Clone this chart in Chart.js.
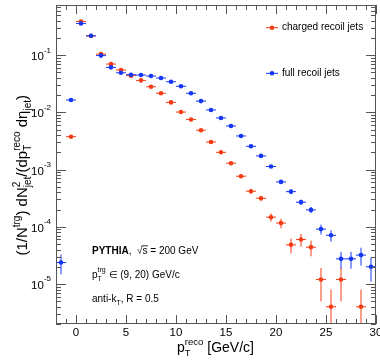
<!DOCTYPE html>
<html><head><meta charset="utf-8">
<script src="https://cdn.jsdelivr.net/npm/chart.js@4"></script>
<style>html,body{margin:0;padding:0;background:#fff}#wrap{width:380px;height:360px}</style>
</head><body><div id="wrap"><canvas id="c" width="380" height="360"></canvas></div>
<script>
// ---- data ----
const chargedX = [-0.5,0.5,1.5,2.5,3.5,4.5,5.5,6.5,7.5,8.5,9.5,10.5,11.5,12.5,13.5,14.5,15.5,16.5,17.5,18.5,19.5,20.5,21.5,22.5,23.5,24.5,25.5,26.5,28.5];
const chargedY = [0.00375,0.387,0.216,0.104,0.0697,0.0547,0.0436,0.0361,0.028,0.0215,0.0149,0.0101,0.0075,0.00486,0.00303,0.0020,0.00129,0.000764,0.000418,0.000315,0.000147,0.000116,4.83e-5,5.98e-5,4.4e-5,1.2e-5,4.0e-6,1.2e-5,4.0e-6];
const chargedErr = [1.2e-4,1.2e-3,9e-4,6.4e-4,5.3e-4,4.7e-4,4.2e-4,3.8e-4,3.3e-4,2.9e-4,2.4e-4,2.0e-4,1.7e-4,1.4e-4,1.1e-4,9e-5,7.2e-5,5.5e-5,4.1e-5,3.5e-5,2.4e-5,2.2e-5,1.4e-5,1.5e-5,1.35e-5,7e-6,4e-6,7e-6,4e-6];
const fullX = [-1.5,-0.5,0.5,1.5,2.5,3.5,4.5,5.5,6.5,7.5,8.5,9.5,10.5,11.5,12.5,13.5,14.5,15.5,16.5,17.5,18.5,19.5,20.5,21.5,22.5,23.5,24.5,25.5,26.5,27.5,28.5,29.5];
const fullY = [2.37e-5,0.0164,0.357,0.217,0.098,0.061,0.049,0.0454,0.0448,0.043,0.0397,0.0342,0.0285,0.0215,0.0157,0.011,0.00796,0.00577,0.00386,0.00255,0.00173,0.00113,0.000608,0.000411,0.000269,0.000197,9.1e-5,7.1e-5,2.75e-5,2.75e-5,3.2e-5,2.0e-5];
const fullErr = [9e-6,2.2e-4,1.0e-3,8e-4,5.4e-4,4.3e-4,3.8e-4,3.7e-4,3.7e-4,3.6e-4,3.5e-4,3.2e-4,2.9e-4,2.5e-4,2.2e-4,1.8e-4,1.5e-4,1.3e-4,1.1e-4,8.7e-5,7.2e-5,5.8e-5,4.3e-5,3.5e-5,2.8e-5,2.4e-5,1.8e-5,1.6e-5,9e-6,9e-6,1.1e-5,9e-6];
const binHalfWidth = 0.5;
const xTickValues = [0,5,10,15,20,25,30];
const xTickLabels = ['0','5','10','15','20','25','30'];
const yTickExponents = [-1,-2,-3,-4,-5];
const seriesLabels = ['charged recoil jets','full recoil jets'];

const FAM = '"Liberation Sans", Arial, Helvetica, sans-serif';
const RED = 'rgb(245,60,20)';
const BLUE = 'rgb(20,55,245)';

function setFont(ctx, p){ ctx.font = (p.bold?'bold ':'') + p.size + 'px ' + FAM; }
function drawRich(ctx, x, y, parts, measureOnly){
  let cx = x, lastStart = x, lastW = 0;
  for (const p of parts){
    setFont(ctx, p);
    const pw = ctx.measureText(p.t).width;
    if (p.stack){
      if(!measureOnly) ctx.fillText(p.t, lastStart, y + (p.dy||0));
      const end = lastStart + Math.max(lastW, pw);
      cx = end; lastW = Math.max(lastW, pw);
    } else {
      if(!measureOnly) ctx.fillText(p.t, cx, y + (p.dy||0));
      lastStart = cx; lastW = pw; cx += pw;
    }
  }
  return cx - x;
}

const errorBars = {
  id: 'errorBars',
  beforeDatasetsDraw(chart){
    const {ctx, chartArea: a, scales: {x, y}} = chart;
    ctx.save();
    ctx.beginPath(); ctx.rect(a.left, a.top, a.right - a.left, a.bottom - a.top); ctx.clip();
    ctx.lineWidth = 1;
    const sets = [[chargedX, chargedY, chargedErr, RED], [fullX, fullY, fullErr, BLUE]];
    for (const [xs, ys, es, col] of sets){
      ctx.strokeStyle = col;
      ctx.beginPath();
      xs.forEach((xv, i) => {
        const px = x.getPixelForValue(xv), py = y.getPixelForValue(ys[i]);
        ctx.moveTo(x.getPixelForValue(xv - binHalfWidth), py);
        ctx.lineTo(x.getPixelForValue(xv + binHalfWidth), py);
        const lo = ys[i] - es[i], hi = ys[i] + es[i];
        const pyLo = lo > 0 ? y.getPixelForValue(lo) : a.bottom + 5;
        ctx.moveTo(px, pyLo); ctx.lineTo(px, y.getPixelForValue(hi));
      });
      ctx.stroke();
    }
    ctx.restore();
  }
};

const frame = {
  id: 'frame',
  afterDraw(chart){
    const {ctx, chartArea: a, scales: {x, y}} = chart;
    ctx.save();
    ctx.strokeStyle = '#555'; ctx.lineWidth = 1;
    ctx.strokeRect(a.left + 0.5, a.top + 0.5, a.right - a.left - 1, a.bottom - a.top - 1);
    ctx.beginPath();
    for (let v = Math.ceil(x.min); v <= x.max; v++){
      const px = Math.round(x.getPixelForValue(v)) + 0.5;
      const len = v % 5 === 0 ? 9 : 5;
      ctx.moveTo(px, a.bottom); ctx.lineTo(px, a.bottom - len);
      ctx.moveTo(px, a.top); ctx.lineTo(px, a.top + len);
    }
    for (let e = -7; e <= 0; e++){
      for (let k = 1; k <= 9; k++){
        const v = k * Math.pow(10, e);
        if (v < y.min || v > y.max) continue;
        const py = Math.round(y.getPixelForValue(v)) + 0.5;
        const len = k === 1 ? 10 : 5;
        ctx.moveTo(a.left, py); ctx.lineTo(a.left + len, py);
        ctx.moveTo(a.right, py); ctx.lineTo(a.right - len, py);
      }
    }
    ctx.stroke();

    ctx.fillStyle = '#000';
    ctx.textBaseline = 'alphabetic';
    // x tick labels
    ctx.font = '11.5px ' + FAM; ctx.textAlign = 'center';
    xTickValues.forEach((v, i) => ctx.fillText(xTickLabels[i], x.getPixelForValue(v), 336));
    // y tick labels
    ctx.textAlign = 'left';
    yTickExponents.forEach(e => {
      const py = y.getPixelForValue(Math.pow(10, e));
      const parts = [{t:'10', size:11.5}, {t:String(e), size:8, dy:-7.5}];
      const w = drawRich(ctx, 0, 0, parts, true);
      drawRich(ctx, 51 - w, py + 5, parts);
    });
    // x title
    const xt = [{t:'p', size:14}, {t:'reco', size:9.5, dy:-7}, {t:'T', size:9.5, dy:3.5, stack:true}, {t:' [GeV/c]', size:14}];
    const xw = drawRich(ctx, 0, 0, xt, true);
    drawRich(ctx, 215.5 - xw / 2, 352, xt);
    // y title
    const yt = [{t:'(1/N', size:15}, {t:'trg', size:10, dy:-7}, {t:') dN', size:15}, {t:'2', size:10, dy:-7},
      {t:'jet', size:10, dy:3.5, stack:true}, {t:'/(dp', size:15}, {t:'reco', size:10, dy:-7},
      {t:'T', size:10, dy:3.5, stack:true}, {t:' d\u03b7', size:15}, {t:'jet', size:10, dy:3.5}, {t:')', size:15}];
    const yw = drawRich(ctx, 0, 0, yt, true);
    ctx.save();
    ctx.translate(27, 95 + yw);
    ctx.rotate(-Math.PI / 2);
    drawRich(ctx, 0, 0, yt);
    ctx.restore();

    // legend
    const legY = [27.7, 73.3];
    const legC = [RED, BLUE];
    legY.forEach((ly, i) => {
      ctx.strokeStyle = legC[i]; ctx.lineWidth = 1;
      ctx.beginPath(); ctx.moveTo(266, ly); ctx.lineTo(278, ly); ctx.stroke();
      ctx.fillStyle = legC[i];
      ctx.beginPath(); ctx.arc(272, ly, 2.3, 0, Math.PI * 2); ctx.fill();
      ctx.fillStyle = '#000';
      ctx.font = '10px ' + FAM; ctx.textBaseline = 'middle';
      ctx.fillText(seriesLabels[i], 282, ly);
    });
    ctx.textBaseline = 'alphabetic';

    // annotations
    const tx = 92;
    const l1 = [{t:'PYTHIA', size:10, bold:true}, {t:',  ', size:10}, {t:'\u221A', size:10}, {t:'s', size:10}, {t:' = 200 GeV', size:10}];
    drawRich(ctx, tx, 254.3, l1);
    // overline for sqrt
    setFont(ctx, {size:10, bold:true}); const w0 = ctx.measureText('PYTHIA').width;
    setFont(ctx, {size:10}); const w1 = ctx.measureText(',  ').width, w2 = ctx.measureText('\u221A').width, w3 = ctx.measureText('s').width;
    ctx.strokeStyle = '#000'; ctx.lineWidth = 0.8;
    ctx.beginPath(); ctx.moveTo(tx + w0 + w1 + w2 - 1, 245.8); ctx.lineTo(tx + w0 + w1 + w2 + w3 + 0.5, 245.8); ctx.stroke();
    const l2 = [{t:'p', size:10}, {t:'trg', size:7, dy:-5.5}, {t:'T', size:7, dy:3, stack:true}, {t:' \u2208 (9, 20) GeV/c', size:10}];
    drawRich(ctx, tx, 277.8, l2);
    const l3 = [{t:'anti-k', size:10}, {t:'T', size:7, dy:3}, {t:', R = 0.5', size:10}];
    drawRich(ctx, tx, 301.8, l3);
    ctx.restore();
  }
};

const toPts = (xs, ys) => xs.map((v, i) => ({x: v, y: ys[i]}));

new Chart(document.getElementById('c'), {
  type: 'scatter',
  data: {
    datasets: [
      {label: seriesLabels[1], data: toPts(fullX, fullY), backgroundColor: BLUE, borderWidth: 0, pointRadius: 2.3, pointHoverRadius: 2.3},
      {label: seriesLabels[0], data: toPts(chargedX, chargedY), backgroundColor: RED, borderWidth: 0, pointRadius: 2.3, pointHoverRadius: 2.3}
    ]
  },
  options: {
    responsive: false, animation: false, devicePixelRatio: 1,
    layout: {padding: {left: 56, right: 4, top: 5, bottom: 36}},
    plugins: {legend: {display: false}, tooltip: {enabled: false}},
    scales: {
      x: {type: 'linear', min: -2, max: 30, display: false},
      y: {type: 'logarithmic', min: 2e-6, max: 0.75, display: false}
    }
  },
  plugins: [errorBars, frame]
});
</script>
</body></html>
